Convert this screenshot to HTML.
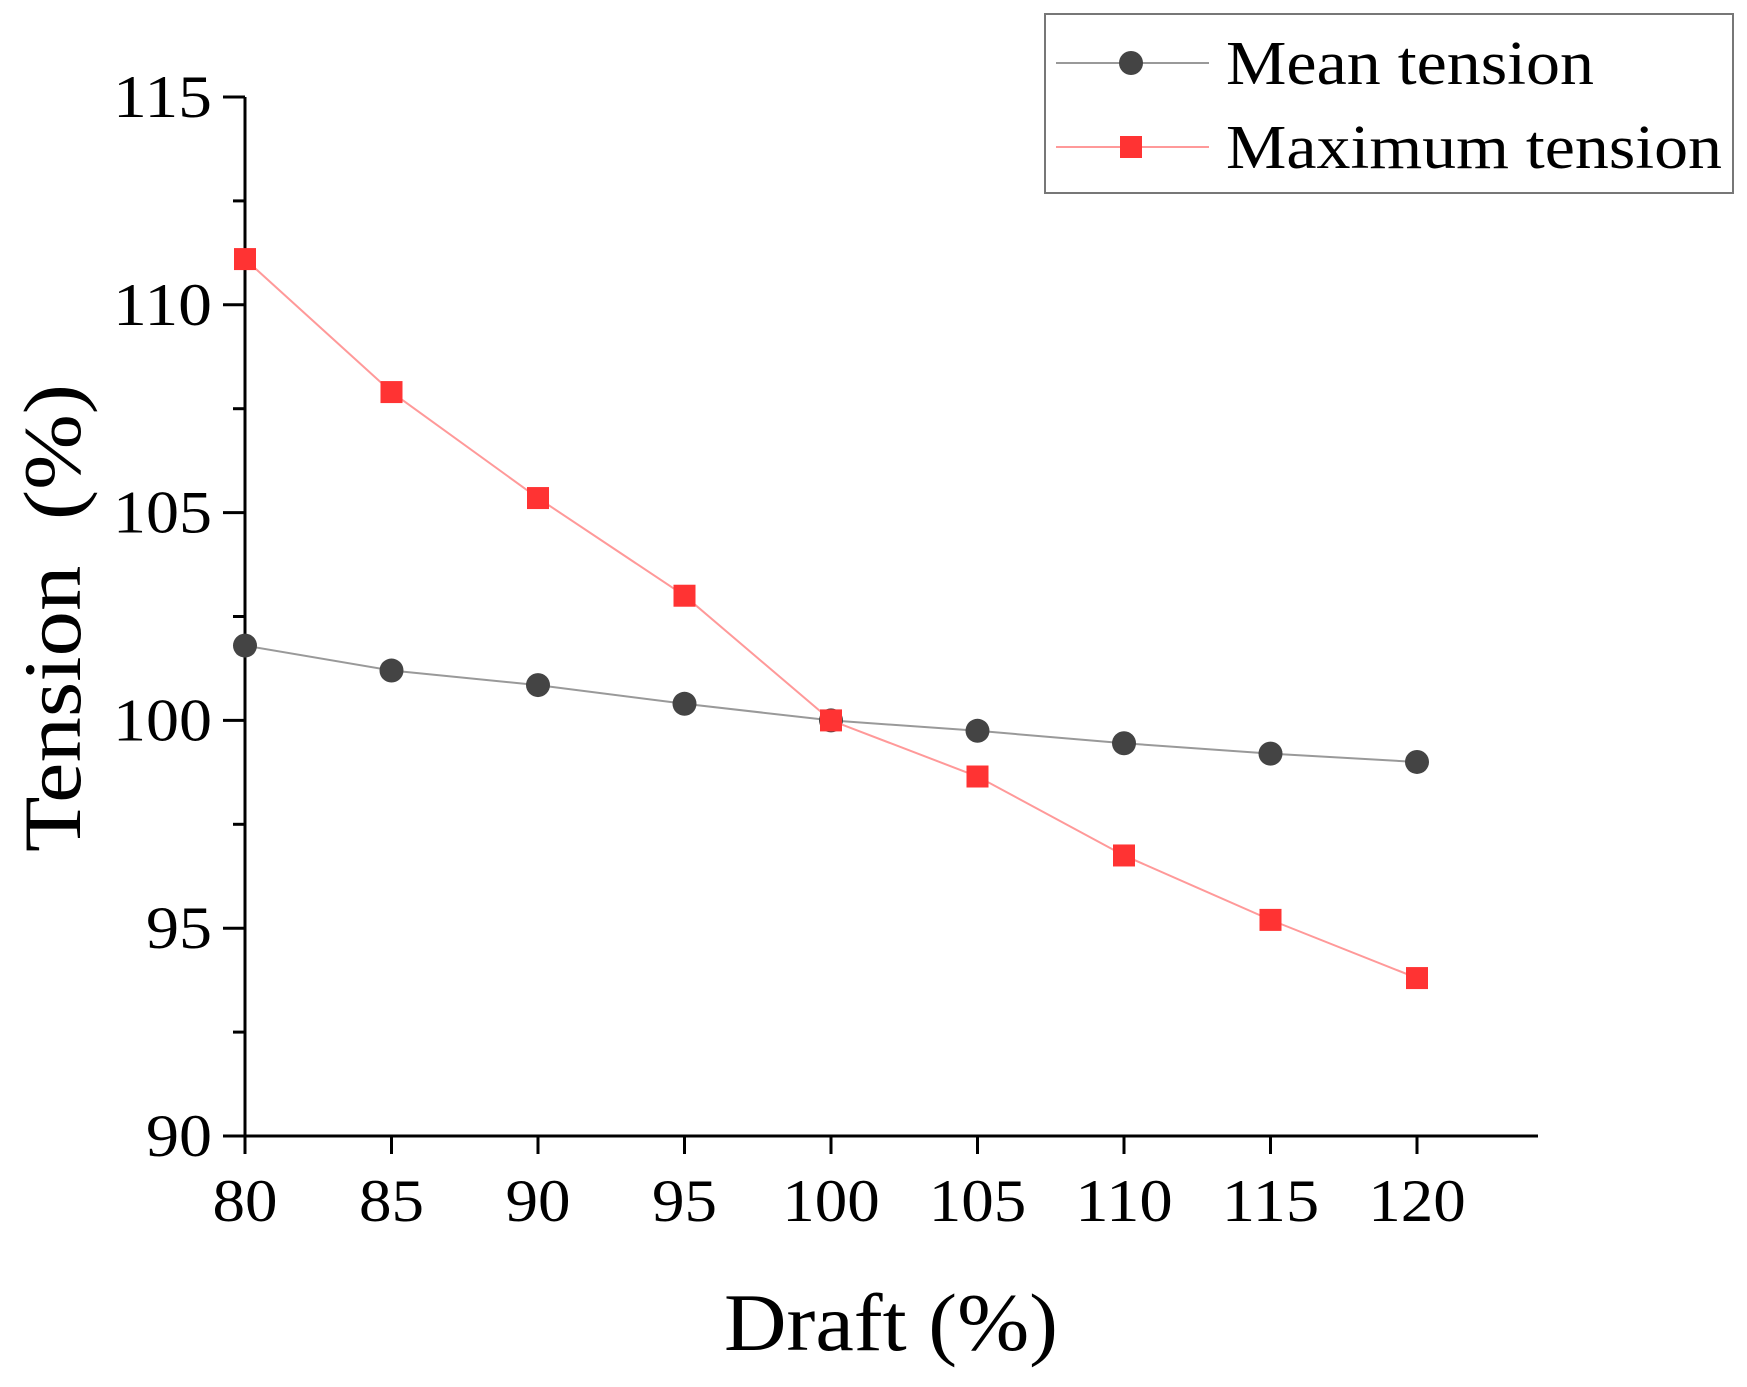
<!DOCTYPE html>
<html><head><meta charset="utf-8"><style>
html,body{margin:0;padding:0;background:#fff}
svg{display:block;font-family:"Liberation Serif",serif}
</style></head><body>
<svg id="c" width="1747" height="1387" viewBox="0 0 1747 1387"></svg>
<script>
const categories=[80,85,90,95,100,105,110,115,120];
const meanTension=[101.8,101.2,100.85,100.4,100,99.75,99.45,99.2,99.0];
const maxTension=[111.1,107.9,105.35,103.0,100,98.65,96.75,95.2,93.8];
const yTicks=[90,95,100,105,110,115];
const yMinor=[92.5,97.5,102.5,107.5,112.5];
const xTicks=[80,85,90,95,100,105,110,115,120];
const NS='http://www.w3.org/2000/svg';
const svg=document.getElementById('c');
const X0=245,X1=1417,Y0=1136,Y1=97;
const xs=v=>X0+(v-80)/(40)*(X1-X0);
const ys=v=>Y0-(v-90)/(25)*(Y0-Y1);
function mk(t,a,p){const e=document.createElementNS(NS,t);for(const k in a)e.setAttribute(k,a[k]);(p||svg).appendChild(e);return e;}
const ax=mk('line',{x1:X0,y1:Y0,x2:1538,y2:Y0,stroke:'#000','stroke-width':3});


const ay=mk('line',{x1:X0,y1:Y0+1,x2:X0,y2:Y1,stroke:'#000','stroke-width':3});


yTicks.forEach(v=>{
  mk('line',{x1:X0-22,y1:ys(v),x2:X0,y2:ys(v),stroke:'#000','stroke-width':3});
  const s=String(v);
  const t=mk('text',{x:212,y:ys(v)+20,'text-anchor':'end','font-size':60,textLength:s.length*33,lengthAdjust:'spacingAndGlyphs'});
  t.textContent=s;
  
  
});
yMinor.forEach(v=>mk('line',{x1:X0-12,y1:ys(v),x2:X0,y2:ys(v),stroke:'#000','stroke-width':3}));
xTicks.forEach(v=>{
  mk('line',{x1:xs(v),y1:Y0,x2:xs(v),y2:Y0+18,stroke:'#000','stroke-width':3});
  const s=String(v);
  const t=mk('text',{x:xs(v),y:1221,'text-anchor':'middle','font-size':60,textLength:s.length*32.5,lengthAdjust:'spacingAndGlyphs'});
  t.textContent=s;
  
  
});
const xt=mk('text',{x:891,y:1350,'text-anchor':'middle','font-size':82,textLength:334,lengthAdjust:'spacingAndGlyphs'});
xt.textContent='Draft (%)';


const yt=mk('text',{x:0,y:0,'text-anchor':'middle','font-size':82,textLength:468,lengthAdjust:'spacingAndGlyphs',transform:'translate(80,618) rotate(-90)'});
yt.textContent='Tension\u2002(%)';


function series(vals,color,lineColor,shape,name){
  const g=mk('g',{});
  
  
  mk('polyline',{points:vals.map((v,i)=>xs(categories[i])+','+ys(v)).join(' '),fill:'none',stroke:lineColor,'stroke-width':2},g);
  vals.forEach((v,i)=>{
    let m;
    if(shape==='c')m=mk('circle',{cx:xs(categories[i]),cy:ys(v),r:12,fill:color},g);
    else m=mk('rect',{x:xs(categories[i])-11,y:ys(v)-11,width:22,height:22,fill:color},g);
    
    
  });
}
series(meanTension,'#444','#999','c','mean-tension-series');
series(maxTension,'#f33','#f99','s','maximum-tension-series');
const lg=mk('g',{});


mk('rect',{x:1045,y:14,width:688,height:179,fill:'#fff',stroke:'#777','stroke-width':2},lg);
mk('line',{x1:1056,y1:63,x2:1209,y2:63,stroke:'#999','stroke-width':2},lg);
mk('circle',{cx:1131,cy:63,r:12,fill:'#444'},lg);
mk('line',{x1:1056,y1:147,x2:1209,y2:147,stroke:'#f99','stroke-width':2},lg);
mk('rect',{x:1120,y:136,width:22,height:22,fill:'#f33'},lg);
const l1=mk('text',{x:1226,y:84,'font-size':62,textLength:368,lengthAdjust:'spacingAndGlyphs'},lg);l1.textContent='Mean tension';


const l2=mk('text',{x:1226,y:168,'font-size':62,textLength:496,lengthAdjust:'spacingAndGlyphs'},lg);l2.textContent='Maximum tension';


</script>
</body></html>
